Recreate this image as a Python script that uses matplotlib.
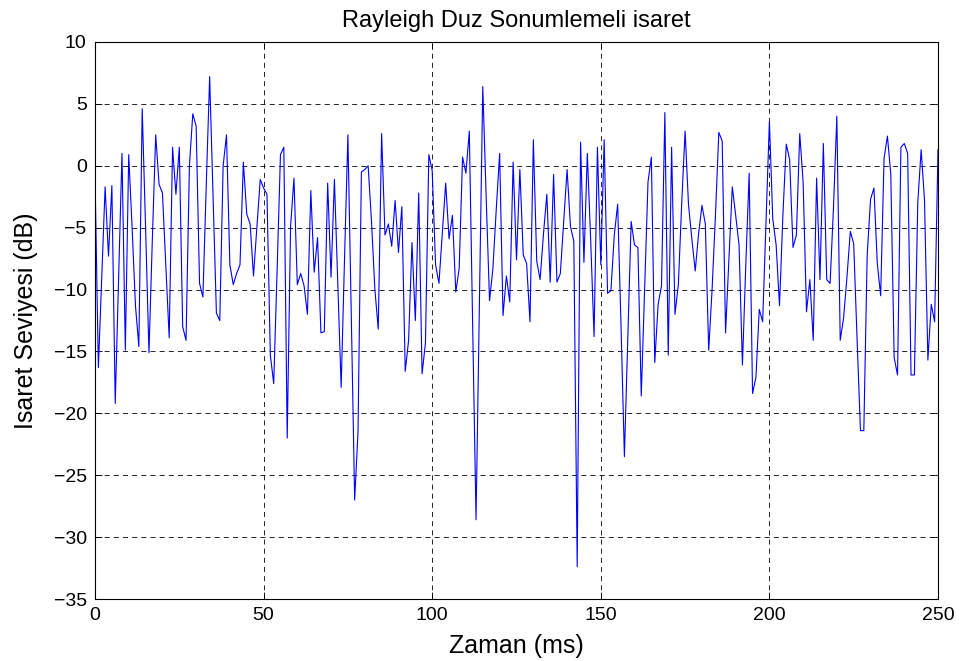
import numpy as np
import matplotlib
matplotlib.use("Agg")
import matplotlib.pyplot as plt

# Received signal level of a Rayleigh flat-fading channel, one sample per ms
time_ms = np.arange(0, 251)
level_db = [
    -0.8, -16.3, -9.0, -1.7, -7.3, -1.6, -19.2, -9.0, 1.0, -14.9,
    0.9, -5.0, -11.3, -14.6, 4.6, -5.0, -15.1, -6.0, 2.5, -1.5,
    -2.2, -8.0, -13.9, 1.5, -2.3, 1.5, -13.0, -14.1, 0.0, 4.2,
    3.2, -9.5, -10.6, -1.5, 7.2, -2.5, -11.9, -12.5, 0.0, 2.5,
    -8.0, -9.6, -8.7, -8.0, 0.3, -3.9, -4.7, -8.9, -5.0, -1.1,
    -1.8, -2.3, -15.3, -17.6, -8.5, 0.9, 1.5, -22.0, -4.9, -1.0,
    -9.6, -8.7, -9.7, -12.0, -2.0, -8.6, -5.8, -13.5, -13.4, -1.4,
    -9.0, -1.1, -9.5, -17.9, -7.5, 2.5, -12.0, -27.0, -21.5, -0.5,
    -0.3, 0.0, -4.5, -10.0, -13.2, 2.6, -5.6, -4.7, -6.5, -2.8,
    -7.0, -3.3, -16.6, -14.1, -6.2, -12.5, -2.2, -16.8, -14.3, 0.9,
    -0.4, -8.0, -9.5, -5.5, -1.4, -5.9, -4.0, -10.2, -8.3, 0.7,
    -0.6, 2.8, -13.0, -28.6, -11.0, 6.4, -2.5, -10.9, -8.3, -3.5,
    1.0, -12.1, -8.9, -11.0, 0.3, -7.6, -0.3, -7.2, -7.9, -12.6,
    2.1, -7.7, -9.2, -5.5, -2.3, -9.4, -0.7, -9.4, -8.7, -4.5,
    -0.3, -4.9, -6.1, -32.4, 1.9, -7.8, 1.0, -6.0, -13.8, 1.5,
    -8.0, 2.1, -10.3, -10.1, -5.6, -3.1, -13.0, -23.5, -14.0, -4.5,
    -6.4, -6.6, -18.6, -10.0, -1.3, 0.7, -15.9, -11.2, -9.7, 4.3,
    -15.3, 1.5, -12.0, -9.6, -3.0, 2.8, -3.1, -5.9, -8.5, -5.5,
    -3.2, -4.7, -14.9, -10.0, -4.0, 2.7, 2.0, -13.5, -7.5, -1.7,
    -4.0, -6.4, -16.1, -8.0, -0.6, -18.4, -17.1, -11.6, -12.6, -4.5,
    3.6, -4.3, -6.4, -11.3, -4.0, 1.75, 0.5, -6.6, -5.6, 2.6,
    -1.3, -11.8, -9.2, -14.1, -1.0, -9.2, 1.8, -9.2, -9.5, -3.4,
    4.0, -14.1, -12.3, -9.0, -5.3, -6.3, -14.0, -21.4, -21.4, -7.2,
    -2.7, -1.8, -7.9, -10.5, 0.6, 2.4, -0.7, -15.5, -16.9, 1.5,
    1.8, 1.0, -16.9, -16.9, -3.0, 1.3, -2.8, -15.7, -11.2, -12.6,
    1.3,
]

x_ticks = [0, 50, 100, 150, 200, 250]
y_ticks = [-35, -30, -25, -20, -15, -10, -5, 0, 5, 10]

plt.rcParams['font.family'] = ['Liberation Sans', 'DejaVu Sans']

fig = plt.figure(figsize=(9.66, 6.61), dpi=100)
ax = fig.add_axes([95 / 966, 1 - 599 / 661, (938 - 95) / 966, (599 - 42) / 661])

ax.plot(time_ms, level_db, color=(0, 0, 1), linewidth=0.8)

ax.set_xlim(0, 250)
ax.set_ylim(-35, 10)
ax.set_xticks(x_ticks)
ax.set_yticks(y_ticks)
ax.tick_params(direction='in', length=5, width=0.6, labelsize=14,
               top=True, right=True, pad=6)

ax.grid(True, color='black', linestyle=(0, (6, 5)), linewidth=0.6)
for spine in ax.spines.values():
    spine.set_linewidth(0.8)
    spine.set_color('black')

ax.set_title('Rayleigh Duz Sonumlemeli isaret', fontsize=17, pad=11)
ax.set_xlabel('Zaman (ms)', fontsize=18, labelpad=7)
ax.set_ylabel('Isaret Seviyesi (dB)', fontsize=18, labelpad=11)

fig.savefig('out.png', dpi=100)
